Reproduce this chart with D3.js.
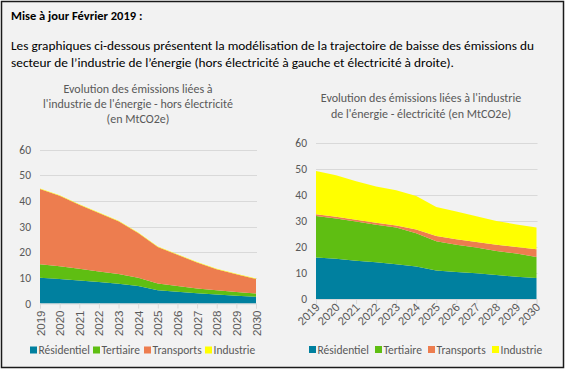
<!DOCTYPE html>
<html lang="fr">
<head>
<meta charset="UTF-8">
<title>Evolution des émissions - industrie de l'énergie</title>
<script src="https://d3js.org/d3.v7.min.js"></script>
<style>
  body { margin: 0; background: #fff; }
  svg { display: block; font-family: Carlito, Lato, "Open Sans", sans-serif; }
  .grid line { stroke: #d9d9d9; }
  .tick-label { fill: #595959; font-size: 11.5px; }
  .chart-title { fill: #595959; font-size: 12px; }
  .legend text { fill: #595959; font-size: 11.5px; }
</style>
</head>
<body>
<svg id="chart" width="568" height="373"></svg>
<script>
const years = [2019, 2020, 2021, 2022, 2023, 2024, 2025, 2026, 2027, 2028, 2029, 2030];
const series = ["Résidentiel", "Tertiaire", "Transports", "Industrie"];
const colors = ["#00809f", "#5fbe12", "#ed7d4f", "#ffff00"];
const yTicks = [0, 10, 20, 30, 40, 50, 60];

// hors électricité
const leftResidentiel = [10, 9.5, 9, 8.4, 7.7, 6.8, 5.2, 4.6, 4, 3.5, 3, 2.6];
const leftTertiaire   = [5.3, 5, 4.5, 4.1, 3.8, 3.2, 2.6, 2.2, 1.8, 1.7, 1.5, 1.3];
const leftTransports  = [29.3, 27.5, 25, 22.8, 20.5, 17.5, 14.2, 12.2, 10.2, 8.1, 6.9, 5.6];
const leftIndustrie   = [0.2, 0.2, 0.2, 0.2, 0.2, 0.2, 0.2, 0.2, 0.2, 0.2, 0.2, 0.2];

// électricité
const rightResidentiel = [16, 15.5, 14.7, 14.1, 13.4, 12.5, 11, 10.4, 9.9, 9.2, 8.6, 8.1];
const rightTertiaire   = [15.9, 15.5, 15.1, 14.5, 14.1, 12.8, 11.2, 10.5, 9.9, 9.3, 8.9, 8.1];
const rightTransports  = [0.7, 0.6, 0.7, 0.7, 0.8, 1.4, 2, 2.1, 2.1, 2.4, 2.5, 2.9];
const rightIndustrie   = [16.6, 16, 14.8, 14, 13.5, 12.9, 11.2, 10.7, 9.9, 9.1, 8.7, 8.4];

const svg = d3.select("#chart");

svg.append("rect")
  .attr("x", 1.5).attr("y", 1.5)
  .attr("width", 562).attr("height", 366)
  .attr("fill", "#f2f2f2")
  .attr("stroke", "#1a1a1a")
  .attr("stroke-width", 1.5);

svg.append("text")
  .attr("x", 11).attr("y", 20)
  .attr("font-size", 12.5).attr("font-weight", "bold").attr("fill", "#000")
  .text("Mise à jour Février 2019 :");

const intro = [
  "Les graphiques ci-dessous présentent la modélisation de la trajectoire de baisse des émissions du",
  "secteur de l\u2019industrie de l\u2019énergie (hors électricité à gauche et électricité à droite)."
];
svg.append("text")
  .attr("x", 11).attr("y", 50)
  .attr("font-size", 12.5).attr("fill", "#000")
  .attr("textLength", 523).attr("lengthAdjust", "spacingAndGlyphs")
  .text(intro[0]);
svg.append("text")
  .attr("x", 11).attr("y", 67)
  .attr("font-size", 12.5).attr("fill", "#000")
  .attr("textLength", 443).attr("lengthAdjust", "spacingAndGlyphs")
  .text(intro[1]);

function drawChart(cfg) {
  const rows = years.map((yr, i) => {
    const r = { year: yr };
    series.forEach((s, k) => r[s] = cfg.data[k][i]);
    return r;
  });
  const stacked = d3.stack().keys(series)(rows);

  const x = d3.scaleLinear().domain([years[0], years[years.length - 1]]).range([cfg.x0, cfg.x1]);
  const y = d3.scaleLinear().domain([0, 60]).range([cfg.y0, cfg.y1]);

  const g = svg.append("g");

  // titre
  g.append("text")
    .attr("class", "chart-title")
    .attr("text-anchor", "middle")
    .selectAll("tspan")
    .data(cfg.title)
    .join("tspan")
    .attr("x", cfg.titleX)
    .attr("y", (d, i) => cfg.titleY + i * cfg.titleStep)
    .text(d => d);

  // grille
  g.append("g").attr("class", "grid")
    .selectAll("line")
    .data(yTicks.slice(1))
    .join("line")
    .attr("x1", cfg.x0).attr("x2", cfg.x1 + 1)
    .attr("y1", d => Math.round(y(d)) + 0.5).attr("y2", d => Math.round(y(d)) + 0.5);

  g.append("g")
    .selectAll("text")
    .data(yTicks)
    .join("text")
    .attr("class", "tick-label")
    .attr("x", cfg.x0 - 9)
    .attr("y", d => y(d) + 4)
    .attr("text-anchor", "end")
    .text(d => d);

  const area = d3.area()
    .x(d => x(d.data.year))
    .y0(d => y(d[0]))
    .y1(d => y(d[1]));

  g.append("g")
    .selectAll("path")
    .data(stacked)
    .join("path")
    .attr("fill", (d, i) => colors[i])
    .attr("d", area);

  // axe des x
  const xAxis = d3.axisBottom(x)
    .tickValues(years)
    .tickFormat(d3.format("d"))
    .tickSize(5);
  const ax = g.append("g")
    .attr("transform", `translate(0,${cfg.y0})`)
    .call(xAxis);
  ax.select(".domain").attr("stroke", "#d9d9d9");
  ax.selectAll(".tick line").attr("stroke", "#d9d9d9");
  ax.selectAll(".tick text")
    .attr("class", "tick-label")
    .attr("fill", null)
    .attr("font-family", null)
    .attr("font-size", null)
    .attr("text-anchor", "end")
    .attr("dy", null)
    .attr("y", 0)
    .attr("transform", cfg.rotate === -90 ? "translate(4,7) rotate(-90)" : "translate(4,9) rotate(-45)");

  // légende
  const leg = g.append("g").attr("class", "legend");
  series.forEach((s, i) => {
    leg.append("rect")
      .attr("x", cfg.legendX[i]).attr("y", cfg.legendY - 3.5)
      .attr("width", 7).attr("height", 7)
      .attr("fill", colors[i]);
    leg.append("text")
      .attr("x", cfg.legendX[i] + 8.5).attr("y", cfg.legendY + 4)
      .text(s);
  });
}

drawChart({
  data: [leftResidentiel, leftTertiaire, leftTransports, leftIndustrie],
  x0: 40, x1: 256, y0: 303.5, y1: 149.5,
  title: ["Evolution des émissions liées à", "l'industrie de l'énergie - hors électricité", "(en MtCO2e)"],
  titleX: 138, titleY: 93, titleStep: 15,
  rotate: -90,
  legendX: [30, 93, 144, 205], legendY: 350
});

drawChart({
  data: [rightResidentiel, rightTertiaire, rightTransports, rightIndustrie],
  x0: 316, x1: 536.5, y0: 299, y1: 143,
  title: ["Evolution des émissions liées à l'industrie", "de l'énergie - électricité (en MtCO2e)"],
  titleX: 421, titleY: 102, titleStep: 16,
  rotate: -45,
  legendX: [309, 375, 428, 492], legendY: 349.5
});
</script>
</body>
</html>
